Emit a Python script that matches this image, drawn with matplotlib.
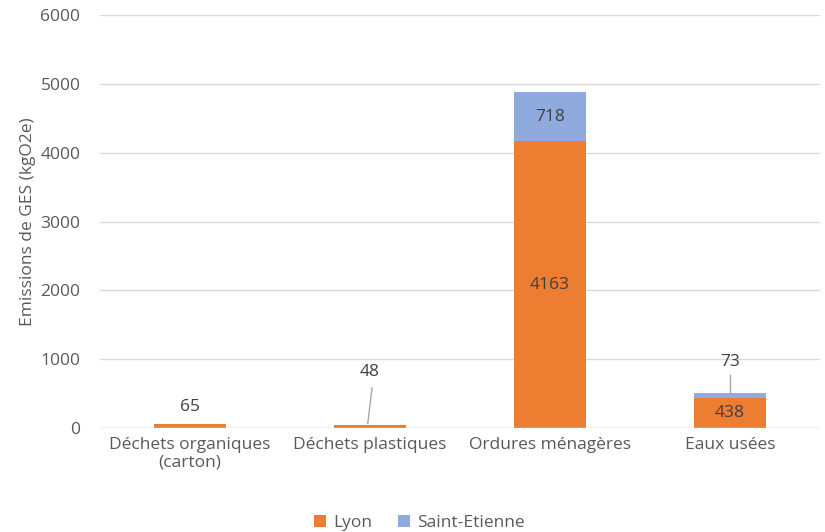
import matplotlib.pyplot as plt
import numpy as np

categories = ["Déchets organiques\n(carton)", "Déchets plastiques", "Ordures ménagères", "Eaux usées"]
lyon = [65, 48, 4163, 438]
saint_etienne = [0, 0, 718, 73]

ORANGE = "#ED7D31"
BLUE = "#8FAADC"
GREY = "#595959"
DARK = "#404040"

plt.rcParams["font.family"] = ["Open Sans", "DejaVu Sans"]

fig = plt.figure(figsize=(8.25, 5.32), dpi=100)
ax = fig.add_axes([0.121, 0.195, 0.873, 0.777])

x = np.arange(len(categories))
width = 0.4
ax.bar(x, lyon, width, color=ORANGE, label="Lyon", zorder=3)
ax.bar(x, saint_etienne, width, bottom=lyon, color=BLUE, label="Saint-Etienne", zorder=3)

ax.set_xlim(-0.5, 3.5)
ax.set_ylim(0, 6000)
ax.set_yticks(np.arange(0, 6001, 1000))
ax.yaxis.grid(True, color="#D9D9D9", linewidth=1, zorder=0)
for s in ax.spines.values():
    s.set_visible(False)
ax.axhline(0, color="#D9D9D9", linewidth=1, zorder=4)
ax.tick_params(axis="both", length=0, labelcolor=GREY, labelsize=12.5)
ax.tick_params(axis="y", pad=14)
ax.tick_params(axis="x", pad=6)
ax.set_xticks(x)
ax.set_xticklabels(categories)
ax.set_ylabel("Emissions de GES (kgO2e)", color=GREY, fontsize=12.5, labelpad=3)

fs = 12.5
# value labels
ax.text(x[0], lyon[0] + 250, str(lyon[0]), ha="center", va="center", color=DARK, fontsize=fs)
ax.text(x[1], lyon[1] + 770, str(lyon[1]), ha="center", va="center", color=DARK, fontsize=fs)
ax.plot([x[1] - 0.012, x[1] + 0.012], [lyon[1] + 20, lyon[1] + 540], color="#A6A6A6", lw=1, zorder=4)
ax.text(x[2], lyon[2] / 2, str(lyon[2]), ha="center", va="center", color=DARK, fontsize=fs, zorder=5)
ax.text(x[2], lyon[2] + saint_etienne[2] / 2, str(saint_etienne[2]), ha="center", va="center", color=DARK, fontsize=fs, zorder=5)
ax.text(x[3], lyon[3] / 2, str(lyon[3]), ha="center", va="center", color=DARK, fontsize=fs, zorder=5)
top3 = lyon[3] + saint_etienne[3]
ax.text(x[3], top3 + 450, str(saint_etienne[3]), ha="center", va="center", color=DARK, fontsize=fs)
ax.plot([x[3], x[3]], [top3, top3 + 260], color="#A6A6A6", lw=1, zorder=4)

ax.legend(loc="center", bbox_to_anchor=(0.444, -0.23), ncol=2, frameon=False,
          fontsize=12.5, labelcolor=GREY, handlelength=0.7, handleheight=0.7,
          handletextpad=0.4, columnspacing=1.5)

fig.savefig("out.png", dpi=100)
